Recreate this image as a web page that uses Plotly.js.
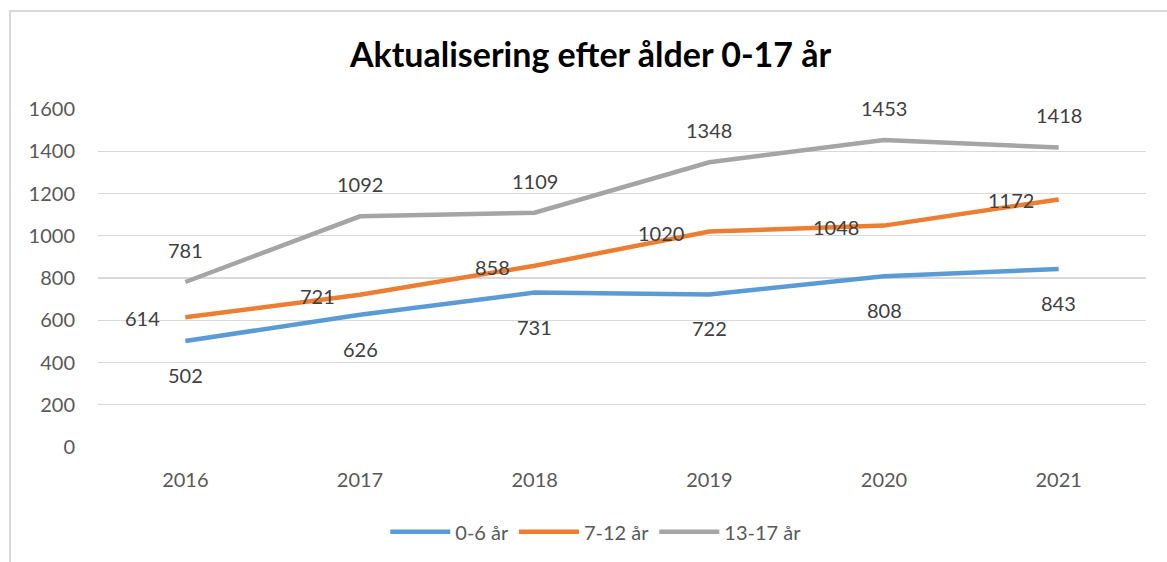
<!DOCTYPE html>
<html>
<head>
    <meta charset="utf-8">
    <title>Aktualisering efter ålder 0-17 år</title>
    <script src="https://cdn.plot.ly/plotly-3.0.1.min.js"></script>
    <style>
        body { margin: 0; background: #fff; overflow: hidden; }
        #frame { position: absolute; left: 9px; top: 10px; width: 1200px; height: 600px; border: 2px solid #d9d9d9; }
        #chart { position: absolute; left: 0; top: 0; width: 1167px; height: 562px; }
    </style>
</head>
<body>
    <div id="frame"></div>
    <div id="chart"></div>
    <script>
        const years = ["2016", "2017", "2018", "2019", "2020", "2021"];
        const seriesNames = ["0-6 år", "7-12 år", "13-17 år"];
        const age0to6 = [502, 626, 731, 722, 808, 843];
        const age7to12 = [614, 721, 858, 1020, 1048, 1172];
        const age13to17 = [781, 1092, 1109, 1348, 1453, 1418];
        const colors = ["#5B9BD5", "#ED7D31", "#A5A5A5"];

        const allSeries = [age0to6, age7to12, age13to17];

        const traces = allSeries.map((vals, i) => ({
            x: years,
            y: vals,
            type: "scatter",
            mode: "lines",
            name: seriesNames[i],
            line: { color: colors[i], width: 4.5 },
            hoverinfo: "skip"
        }));

        // etikett-placering: under, vänster, över (som i Excel)
        const labelStyle = [
            { xanchor: "center", xshift: 0, yshift: -34 },
            { xanchor: "right", xshift: -23, yshift: -1 },
            { xanchor: "center", xshift: 0, yshift: 32 }
        ];

        // kategoriaxeln: annoteringar placeras via kategoriindex
        const annotations = [];
        allSeries.forEach((vals, i) => {
            vals.forEach((v, j) => {
                annotations.push({
                    x: j, y: v, xref: "x", yref: "y",
                    text: String(v), showarrow: false,
                    xanchor: labelStyle[i].xanchor, yanchor: "middle",
                    xshift: labelStyle[i].xshift, yshift: labelStyle[i].yshift,
                    font: { family: "Lato, sans-serif", size: 20, color: "#404040" }
                });
            });
        });

        const layout = {
            width: 1167,
            height: 562,
            paper_bgcolor: "rgba(0,0,0,0)",
            plot_bgcolor: "rgba(0,0,0,0)",
            margin: { l: 98, r: 21, t: 109, b: 114 },
            font: { family: "Lato, sans-serif", size: 20, color: "#595959" },
            title: {
                text: "<b>Aktualisering efter ålder 0-17 år</b>",
                x: 0.47, xref: "paper", xanchor: "center",
                y: 1 - 55 / 562, yanchor: "middle",
                font: { family: "Lato, sans-serif", size: 34, color: "#000" }
            },
            xaxis: {
                type: "category",
                range: [-0.5, years.length - 0.5],
                showgrid: false, zeroline: false, showline: false,
                ticks: "", ticklabelstandoff: 19,
                tickfont: { size: 20, color: "#595959" }
            },
            yaxis: {
                range: [0, 1600], dtick: 200,
                gridcolor: "#d9d9d9", gridwidth: 1.3,
                zeroline: false, showline: false,
                ticks: "", ticklabelstandoff: 22,
                tickfont: { size: 20, color: "#595959" }
            },
            showlegend: true,
            legend: {
                orientation: "h",
                x: 0.475, xanchor: "center",
                y: -0.247, yanchor: "middle",
                font: { size: 20, color: "#595959" },
                itemwidth: 60
            },
            annotations: annotations
        };

        Plotly.newPlot("chart", traces, layout, { displayModeBar: false, staticPlot: true });
    </script>
</body>
</html>
